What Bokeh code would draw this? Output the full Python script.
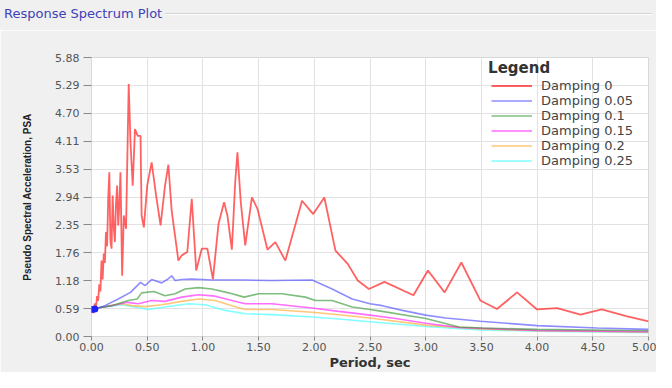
from bokeh.plotting import figure
from bokeh.models import FixedTicker, NumeralTickFormatter, Legend, LegendItem, Range1d, Label, Div
from bokeh.layouts import column
from bokeh.embed import file_html
from bokeh.resources import INLINE

# ---- data ----
period_d0 = [0.00, 0.02, 0.03, 0.04, 0.05, 0.06, 0.07, 0.08, 0.09, 0.10, 0.11, 0.12, 0.13, 0.14,
             0.15, 0.16, 0.17, 0.18, 0.19, 0.20, 0.21, 0.22, 0.23, 0.24, 0.25, 0.26, 0.275, 0.29,
             0.31, 0.334, 0.35, 0.37, 0.39, 0.415, 0.44, 0.45, 0.47, 0.50, 0.54, 0.58, 0.62, 0.66,
             0.69, 0.72, 0.78, 0.81, 0.86, 0.90, 0.94, 0.99, 1.04, 1.09, 1.14, 1.19, 1.22, 1.26,
             1.29, 1.31, 1.34, 1.38, 1.44, 1.49, 1.58, 1.65, 1.74, 1.82, 1.89, 1.99, 2.09, 2.19,
             2.30, 2.39, 2.49, 2.63, 2.89, 3.02, 3.17, 3.32, 3.49, 3.64, 3.82, 4.00, 4.18, 4.39,
             4.58, 4.80, 5.00]
psa_d0 = [0.55, 0.50, 0.70, 0.60, 0.85, 0.75, 1.10, 0.95, 1.60, 1.20, 1.75, 1.55, 2.20, 1.90,
          2.90, 3.46, 2.00, 1.85, 2.97, 2.30, 1.99, 2.80, 3.18, 2.34, 2.80, 3.46, 1.28, 2.55,
          2.27, 5.32, 4.09, 3.18, 4.37, 4.23, 4.23, 2.55, 2.30, 3.18, 3.67, 2.97, 2.34, 3.18,
          3.62, 2.64, 1.60, 1.71, 1.78, 2.90, 1.39, 1.85, 1.85, 1.21, 2.37, 2.83, 2.55, 1.83,
          3.25, 3.88, 2.83, 1.92, 2.93, 2.69, 1.83, 1.99, 1.60, 2.27, 2.86, 2.58, 2.93, 1.81,
          1.53, 1.18, 1.00, 1.15, 0.87, 1.39, 0.93, 1.56, 0.76, 0.58, 0.93, 0.57, 0.60, 0.46,
          0.57, 0.43, 0.32]

period_d05 = [0.00, 0.03, 0.12, 0.24, 0.35, 0.44, 0.48, 0.54, 0.63, 0.68, 0.72, 0.75, 0.81, 0.90,
              1.08, 1.37, 1.62, 1.98, 2.16, 2.34, 2.50, 2.61, 2.79, 3.00, 3.18, 3.49, 4.00, 4.54, 5.00]
psa_d05 = [0.57, 0.58, 0.65, 0.79, 0.93, 1.14, 1.07, 1.20, 1.13, 1.20, 1.28, 1.18, 1.20, 1.21,
           1.19, 1.19, 1.18, 1.19, 1.00, 0.79, 0.69, 0.65, 0.55, 0.45, 0.39, 0.32, 0.23, 0.18, 0.15]

period_d10 = [0.00, 0.18, 0.33, 0.41, 0.45, 0.56, 0.66, 0.75, 0.84, 0.96, 1.08, 1.23, 1.37, 1.50,
              1.71, 1.92, 2.01, 2.16, 2.34, 2.50, 2.61, 3.00, 3.30, 3.51, 4.00, 5.00]
psa_d10 = [0.58, 0.65, 0.76, 0.79, 0.92, 0.95, 0.86, 0.90, 1.00, 1.03, 1.00, 0.92, 0.83, 0.90,
           0.90, 0.83, 0.76, 0.76, 0.62, 0.57, 0.53, 0.38, 0.20, 0.18, 0.15, 0.12]

period_d15 = [0.00, 0.18, 0.32, 0.42, 0.54, 0.66, 0.81, 0.96, 1.11, 1.26, 1.38, 1.62, 1.98, 2.22,
              2.50, 2.73, 3.00, 3.30, 4.00, 5.00]
psa_d15 = [0.58, 0.65, 0.72, 0.69, 0.76, 0.74, 0.83, 0.88, 0.85, 0.76, 0.69, 0.69, 0.60, 0.53,
           0.45, 0.38, 0.28, 0.19, 0.13, 0.10]

period_d20 = [0.00, 0.27, 0.36, 0.48, 0.63, 0.81, 0.96, 1.11, 1.26, 1.38, 1.62, 1.98, 2.22, 2.50,
              3.00, 3.49, 4.00, 5.00]
psa_d20 = [0.58, 0.69, 0.65, 0.63, 0.67, 0.74, 0.79, 0.76, 0.65, 0.57, 0.57, 0.51, 0.46, 0.39,
           0.24, 0.16, 0.12, 0.09]

period_d25 = [0.00, 0.27, 0.39, 0.51, 0.66, 0.87, 1.02, 1.20, 1.38, 1.62, 1.98, 2.22, 2.50, 3.00,
              3.49, 4.00, 5.00]
psa_d25 = [0.58, 0.67, 0.62, 0.57, 0.62, 0.69, 0.67, 0.55, 0.48, 0.46, 0.41, 0.37, 0.31, 0.21,
           0.14, 0.11, 0.08]

series_labels = ["Damping 0", "Damping 0.05", "Damping 0.1", "Damping 0.15", "Damping 0.2", "Damping 0.25"]
legend_title = "Legend"
chart_title = "Response Spectrum Plot"
x_ticks = [0.0, 0.5, 1.0, 1.5, 2.0, 2.5, 3.0, 3.5, 4.0, 4.5, 5.0]
y_ticks = [0.00, 0.59, 1.18, 1.76, 2.35, 2.94, 3.53, 4.11, 4.70, 5.29, 5.88]

# ---- title strip (group-box style caption with a rule to the right) ----
title_div = Div(
    text=('<div style="display:flex;align-items:center;width:652px;padding:6px 0 0 4px;'
          'font-family:\'DejaVu Sans\';font-size:13px;line-height:15px;color:#4040b8;">'
          '<span style="white-space:nowrap;">' + chart_title + '</span>'
          '<div style="flex:1;height:0;margin-left:3px;margin-top:1px;border-top:1px solid #d4d4d4;'
          'border-bottom:1px solid #ffffff;"></div></div>'),
    width=656, height=30, margin=0, styles={"background-color": "#f0f0f0"})

# ---- figure ----
p = figure(width=656, height=342, output_backend="svg", toolbar_location=None,
           x_range=Range1d(0, 5), y_range=Range1d(0, 5.88),
           min_border_left=91, min_border_right=8, min_border_top=27, min_border_bottom=36)
p.background_fill_color = "white"
p.border_fill_color = "#f0f0f0"
p.outline_line_color = "#d8d8d8"

for ax in (p.xaxis[0], p.yaxis[0]):
    ax.axis_line_color = None
    ax.major_tick_line_color = "#888888"
    ax.minor_tick_line_color = None
    ax.major_tick_in = 0
    ax.major_label_text_font = "DejaVu Sans"
    ax.major_label_text_font_size = "11px"
    ax.major_label_text_color = "#555555"
    ax.axis_label_text_font_style = "bold"
    ax.axis_label_text_color = "#333333"

p.xaxis.ticker = FixedTicker(ticks=x_ticks)
p.xaxis.formatter = NumeralTickFormatter(format="0.00")
p.xaxis.major_tick_out = 4
p.xaxis.major_label_standoff = 2
p.xaxis.axis_label = "Period, sec"
p.xaxis.axis_label_text_font = "DejaVu Sans"
p.xaxis.axis_label_text_font_size = "13px"
p.xaxis.axis_label_standoff = 1

p.yaxis.ticker = FixedTicker(ticks=y_ticks)
p.yaxis.formatter = NumeralTickFormatter(format="0.00")
p.yaxis.major_tick_out = 8
p.yaxis.major_label_standoff = 4
p.yaxis.axis_label = "Pseudo Spectral Acceleration, PSA"
p.yaxis.axis_label_text_font = "Liberation Sans"
p.yaxis.axis_label_text_font_size = "10px"
p.yaxis.axis_label_text_color = "#222222"
p.yaxis.axis_label_standoff = 19

p.xgrid.ticker = FixedTicker(ticks=x_ticks)
p.ygrid.ticker = FixedTicker(ticks=y_ticks)
p.xgrid.grid_line_color = "#e2e2e2"
p.ygrid.grid_line_color = "#e2e2e2"

colors = ["#ff2020", "#5050ff", "#3a9a3a", "#ff30ff", "#ffaa30", "#30ffff"]
alphas = [0.7, 0.65, 0.65, 0.7, 0.65, 0.6]
widths = [1.8, 1.6, 1.6, 1.6, 1.6, 1.6]
datasets = [(period_d0, psa_d0), (period_d05, psa_d05), (period_d10, psa_d10),
            (period_d15, psa_d15), (period_d20, psa_d20), (period_d25, psa_d25)]

renderers = {}
for i in [5, 4, 3, 2, 1, 0]:
    xs, ys = datasets[i]
    renderers[i] = p.line(xs, ys, line_color=colors[i], line_alpha=alphas[i], line_width=widths[i])
items = [LegendItem(label=series_labels[i], renderers=[renderers[i]]) for i in range(6)]

# blue markers at the start of the 0.05 series
p.scatter(period_d05[:2], psa_d05[:2], size=7, color="#2020ff", line_color=None)

legend = Legend(items=items, location=(396, 164))
legend.label_text_font = "DejaVu Sans"
legend.label_text_font_size = "13px"
legend.label_text_color = "#444444"
legend.glyph_width = 41
legend.glyph_height = 15
legend.label_height = 15
legend.label_standoff = 9
legend.spacing = 0
legend.padding = 4
legend.margin = 0
legend.background_fill_alpha = 0
legend.border_line_alpha = 0
p.add_layout(legend)

p.add_layout(Label(x=3.56, y=5.65, text=legend_title, text_font="DejaVu Sans",
                   text_font_style="bold", text_font_size="15px", text_color="#333333",
                   text_baseline="middle", text_align="left"))

layout = column(title_div, p, spacing=0)
open("out.html", "w").write(file_html(layout, INLINE))
